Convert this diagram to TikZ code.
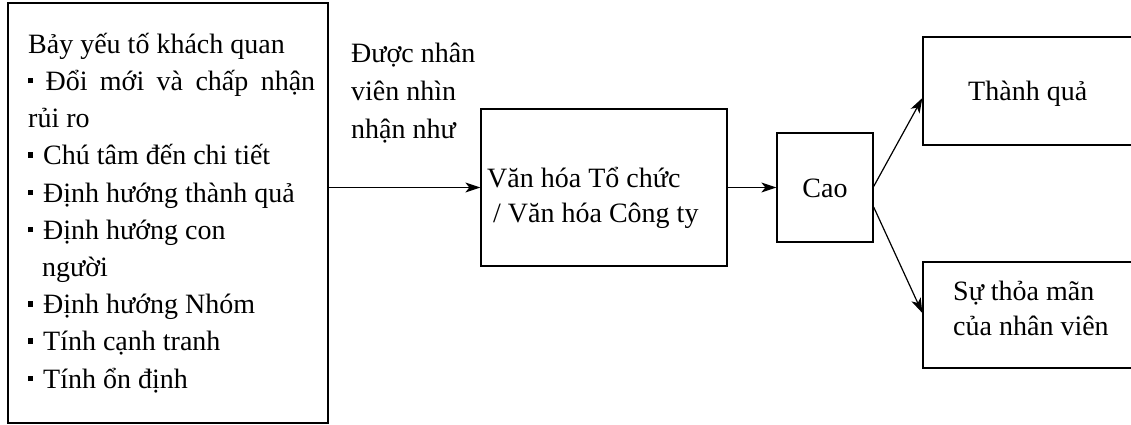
\documentclass[tikz,border=0pt]{standalone}
\usepackage{fontspec}
\setmainfont{Liberation Serif}
\usetikzlibrary{arrows.meta}
\newcommand\sqb{\rule[7pt]{5pt}{5.5pt}}
\begin{document}
\begin{tikzpicture}[x=1pt,y=-1pt,
  box/.style={draw,line width=1.3pt,rectangle,inner sep=0pt},
  txt/.style={anchor=base west,inner sep=0pt,font=\fontsize{28pt}{37pt}\selectfont},
  ctxt/.style={txt,anchor=base},
  arr/.style={-{Stealth[length=15pt,width=10pt,inset=4pt]},line width=1.2pt}]
\useasboundingbox (0,0) rectangle (1131,425);
% boxes
\node[box,minimum width=320pt,minimum height=420pt] (left) at (168,213) {};
\node[box,minimum width=246pt,minimum height=157pt] (vh) at (604,187.5) {};
\node[box,minimum width=96pt,minimum height=109pt] (cao) at (825,187.5) {};
\node[box,minimum width=222pt,minimum height=108pt] (tq) at (1034,91) {};
\node[box,minimum width=222pt,minimum height=106pt] (stm) at (1034,315) {};
% left box text
\node[txt] (l1) at (28,53.3) {Bảy yếu tố khách quan};
\node[txt] (l2) at (28,90.5) {\makebox[287pt][s]{\sqb{} Đổi mới và chấp nhận}};
\node[txt] (l3) at (28,127.7) {rủi ro};
\node[txt] (l4) at (28,164.9) {\sqb\hspace{10pt}Chú tâm đến chi tiết};
\node[txt] (l5) at (28,202.1) {\sqb\hspace{10pt}Định hướng thành quả};
\node[txt] (l6) at (28,239.3) {\sqb\hspace{10pt}Định hướng con};
\node[txt] (l7) at (42,276.5) {người};
\node[txt] (l8) at (28,313.7) {\sqb\hspace{10pt}Định hướng Nhóm};
\node[txt] (l9) at (28,350.9) {\sqb\hspace{10pt}Tính cạnh tranh};
\node[txt] (l10) at (28,388.1) {\sqb\hspace{10pt}Tính ổn định};
% label
\node[txt] (p1) at (351,63) {Được nhân};
\node[txt] (p2) at (351,101) {viên nhìn};
\node[txt] (p3) at (351,139) {nhận như};
% box texts
\node[txt] (v1) at (487,187) {Văn hóa Tổ chức};
\node[txt] (v2) at (493,222) {/ Văn hóa Công ty};
\node[ctxt] (c1) at (825,197) {Cao};
\node[txt] (t1) at (968,100) {Thành quả};
\node[txt] (s1) at (953,300) {Sự thỏa mãn};
\node[txt] (s2) at (953,335) {của nhân viên};
% connectors
\draw[arr] (left.east |- vh.west) -- (vh.west);
\draw[arr] (vh.east) -- (cao.west);
\draw[arr] ([yshift=1pt]cao.east) -- ([yshift=-7pt]tq.west);
\draw[arr] ([yshift=-19.5pt]cao.east) -- ([yshift=2pt]stm.west);
\end{tikzpicture}
\end{document}
